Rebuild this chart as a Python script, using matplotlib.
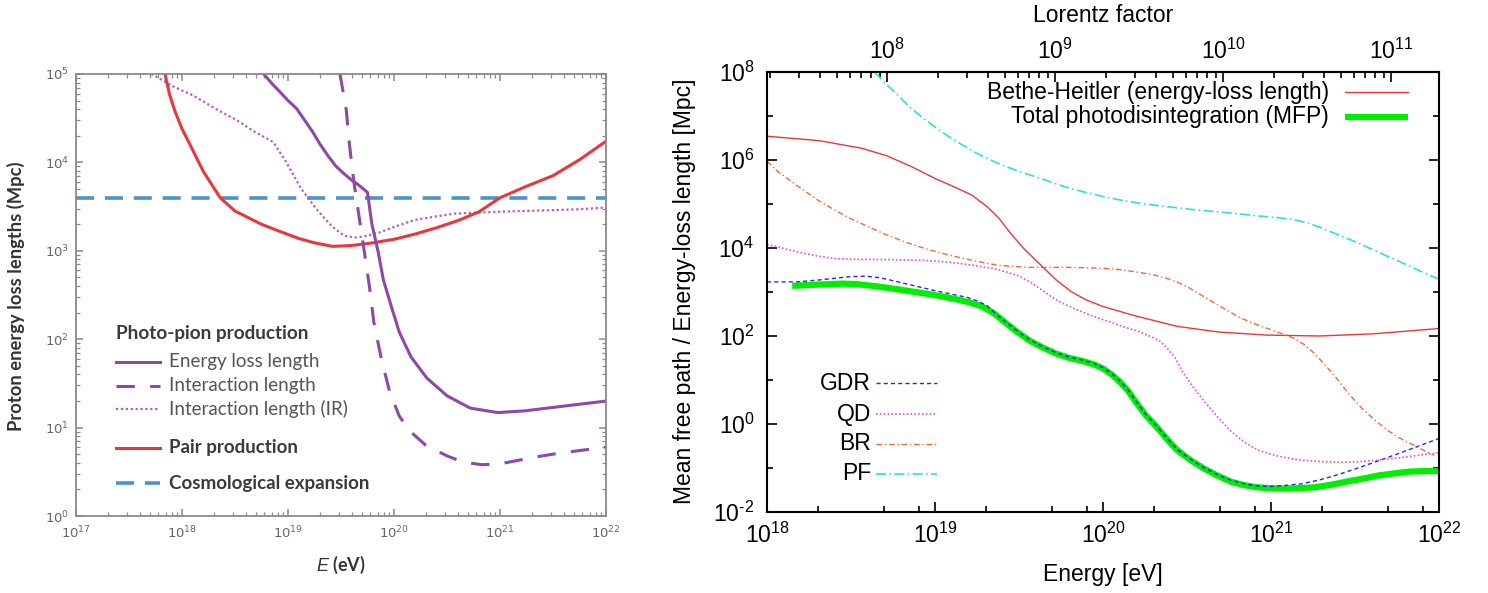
import numpy as np
import matplotlib
matplotlib.use("Agg")
import matplotlib.pyplot as plt
from matplotlib.lines import Line2D
from matplotlib.ticker import (LogLocator, FixedLocator, NullFormatter,
                               LogFormatterMathtext, FuncFormatter)

plt.rcParams['mathtext.fontset'] = 'custom'
plt.rcParams['mathtext.rm'] = 'Liberation Sans'
plt.rcParams['mathtext.it'] = 'Liberation Sans:italic'
plt.rcParams['mathtext.bf'] = 'Liberation Sans:bold'
plt.rcParams['axes.unicode_minus'] = False

# ---------------- Left panel: proton energy-loss lengths ----------------
# values are log10(E / eV) and log10(L / Mpc)
el_logE = [18.77, 18.85, 18.93, 19.0, 19.08, 19.15, 19.23, 19.3, 19.38, 19.45, 19.53,
           19.6, 19.66, 19.75, 19.79, 19.85, 19.9, 19.98, 20.05, 20.16, 20.31, 20.5,
           20.72, 20.98, 21.24, 21.58, 22.0]
el_logL = [5.0, 4.89, 4.79, 4.70, 4.61, 4.49, 4.35, 4.21, 4.07, 3.96, 3.87,
           3.80, 3.75, 3.66, 3.31, 2.99, 2.67, 2.35, 2.08, 1.80, 1.56, 1.36,
           1.22, 1.17, 1.19, 1.24, 1.30]

int_logE = [19.49, 19.52, 19.55, 19.58, 19.62, 19.67, 19.72, 19.77, 19.81, 19.88, 19.96,
            20.05, 20.15, 20.3, 20.5, 20.65, 20.83, 21.0, 21.13, 21.3, 21.5, 21.75, 22.0]
int_logL = [5.0, 4.8, 4.59, 4.2, 3.79, 3.39, 2.99, 2.58, 2.19, 1.78, 1.40,
            1.13, 0.96, 0.80, 0.68, 0.61, 0.58, 0.59, 0.62, 0.66, 0.70, 0.74, 0.78]

ir_logE = [17.71, 17.8, 17.9, 17.97, 18.1, 18.2, 18.34, 18.5, 18.68, 18.86, 18.97,
           19.05, 19.12, 19.2, 19.27, 19.35, 19.42, 19.53, 19.64, 19.75, 19.87, 20.0,
           20.2, 20.4, 20.57, 20.75, 20.95, 21.2, 21.5, 21.75, 22.0]
ir_logL = [5.0, 4.94, 4.87, 4.83, 4.76, 4.69, 4.59, 4.49, 4.35, 4.23, 4.03,
           3.86, 3.71, 3.58, 3.47, 3.36, 3.27, 3.17, 3.15, 3.17, 3.21, 3.27,
           3.35, 3.39, 3.42, 3.43, 3.44, 3.45, 3.46, 3.47, 3.49]

pair_logE = [17.84, 17.88, 17.93, 18.0, 18.08, 18.2, 18.36, 18.5, 18.6, 18.75, 18.9,
             19.1, 19.25, 19.42, 19.6, 19.8, 20.0, 20.2, 20.4, 20.6, 20.8, 21.0,
             21.25, 21.5, 21.75, 22.0]
pair_logL = [5.0, 4.78, 4.59, 4.38, 4.19, 3.90, 3.60, 3.45, 3.39, 3.30, 3.23,
             3.14, 3.09, 3.05, 3.06, 3.09, 3.13, 3.19, 3.26, 3.34, 3.44, 3.60,
             3.73, 3.85, 4.03, 4.24]

cosmo_logE = [17.0, 22.0]
cosmo_logL = [3.60, 3.60]

# ---------------- Right panel: iron nucleus mean free paths ----------------
bh_logE = [18.0, 18.31, 18.56, 18.71, 18.86, 19.0, 19.12, 19.22, 19.31, 19.38, 19.44,
           19.53, 19.63, 19.72, 19.81, 19.9, 20.0, 20.19, 20.44, 20.69, 20.98, 21.29,
           21.61, 22.0]
bh_logL = [6.54, 6.44, 6.27, 6.10, 5.85, 5.58, 5.38, 5.20, 4.94, 4.68, 4.38,
           3.98, 3.61, 3.28, 3.01, 2.82, 2.67, 2.46, 2.22, 2.09, 2.02, 2.00,
           2.05, 2.17]

tot_logE = [18.15, 18.31, 18.45, 18.53, 18.65, 18.78, 18.9, 19.0, 19.12, 19.2, 19.28,
            19.35, 19.41, 19.48, 19.56, 19.64, 19.72, 19.8, 19.88, 19.95, 20.0, 20.05,
            20.1, 20.15, 20.19, 20.25, 20.32, 20.38, 20.44, 20.52, 20.6, 20.68, 20.76,
            20.84, 20.92, 21.0, 21.07, 21.16, 21.26, 21.36, 21.45, 21.55, 21.64, 21.74,
            21.83, 21.92, 22.0]
tot_logL = [3.14, 3.17, 3.19, 3.18, 3.13, 3.06, 2.99, 2.93, 2.84, 2.77, 2.67,
            2.52, 2.33, 2.12, 1.90, 1.74, 1.60, 1.50, 1.43, 1.35, 1.26, 1.13,
            0.96, 0.75, 0.53, 0.22, -0.07, -0.34, -0.59, -0.82, -1.01, -1.17, -1.31,
            -1.39, -1.44, -1.46, -1.47, -1.46, -1.44, -1.38, -1.31, -1.24, -1.17, -1.12,
            -1.08, -1.07, -1.07]

gdr_logE = [18.0, 18.18, 18.3, 18.4, 18.5, 18.59, 18.68, 18.78, 18.9, 19.0, 19.1,
            19.19, 19.25, 19.31, 19.35, 19.41, 19.48, 19.56, 19.64, 19.72, 19.8, 19.88,
            19.95, 20.0, 20.05, 20.1, 20.15, 20.19, 20.25, 20.32, 20.38, 20.44, 20.52,
            20.6, 20.68, 20.76, 20.84, 20.92, 21.0, 21.07, 21.18, 21.29, 21.4, 21.51,
            21.63, 21.76, 21.88, 22.0]
gdr_logL = [3.23, 3.23, 3.27, 3.31, 3.35, 3.36, 3.32, 3.23, 3.12, 3.03, 2.95,
            2.88, 2.80, 2.69, 2.54, 2.35, 2.14, 1.92, 1.76, 1.62, 1.52, 1.45,
            1.37, 1.28, 1.15, 0.98, 0.77, 0.55, 0.24, -0.05, -0.32, -0.57, -0.80,
            -0.99, -1.15, -1.28, -1.36, -1.41, -1.42, -1.40, -1.36, -1.27, -1.15, -1.01,
            -0.85, -0.67, -0.50, -0.33]

qd_logE = [18.0, 18.1, 18.18, 18.3, 18.4, 18.55, 18.68, 18.8, 18.93, 19.05, 19.12,
           19.22, 19.34, 19.43, 19.5, 19.57, 19.63, 19.69, 19.75, 19.82, 19.88, 19.94,
           20.0, 20.07, 20.13, 20.2, 20.29, 20.34, 20.38, 20.43, 20.47, 20.53, 20.6,
           20.68, 20.76, 20.84, 20.92, 21.03, 21.14, 21.24, 21.33, 21.42, 21.51, 21.63,
           21.76, 21.88, 22.0]
qd_logL = [4.08, 3.99, 3.91, 3.82, 3.76, 3.74, 3.74, 3.73, 3.72, 3.69, 3.66,
           3.61, 3.54, 3.45, 3.36, 3.22, 3.06, 2.90, 2.76, 2.64, 2.54, 2.45,
           2.37, 2.28, 2.20, 2.12, 1.98, 1.88, 1.73, 1.50, 1.21, 0.87, 0.53,
           0.17, -0.16, -0.41, -0.59, -0.72, -0.80, -0.84, -0.86, -0.87, -0.86, -0.82,
           -0.77, -0.71, -0.65]

br_logE = [18.0, 18.07, 18.15, 18.23, 18.31, 18.4, 18.49, 18.6, 18.71, 18.82, 18.93,
           19.04, 19.15, 19.26, 19.37, 19.47, 19.56, 19.68, 19.81, 19.9, 20.0, 20.1,
           20.19, 20.29, 20.38, 20.45, 20.51, 20.58, 20.66, 20.74, 20.82, 20.9, 20.98,
           21.06, 21.14, 21.2, 21.26, 21.32, 21.39, 21.46, 21.54, 21.62, 21.7, 21.78,
           21.86, 21.92, 21.97]
br_logL = [5.97, 5.72, 5.50, 5.28, 5.07, 4.87, 4.68, 4.49, 4.30, 4.14, 4.00,
           3.88, 3.78, 3.69, 3.61, 3.58, 3.56, 3.56, 3.56, 3.55, 3.54, 3.51,
           3.46, 3.40, 3.31, 3.21, 3.10, 2.94, 2.76, 2.58, 2.41, 2.28, 2.17,
           2.06, 1.94, 1.80, 1.60, 1.35, 1.04, 0.70, 0.36, 0.08, -0.16, -0.35,
           -0.50, -0.62, -0.71]

pf_logE = [18.64, 18.7, 18.78, 18.85, 18.93, 19.02, 19.12, 19.24, 19.37, 19.5, 19.63,
           19.75, 19.88, 20.0, 20.13, 20.25, 20.38, 20.52, 20.66, 20.8, 20.92, 21.04,
           21.14, 21.22, 21.29, 21.4, 21.51, 21.63, 21.76, 21.88, 22.0]
pf_logL = [8.0, 7.76, 7.47, 7.20, 6.95, 6.69, 6.44, 6.17, 5.93, 5.74, 5.58,
           5.42, 5.28, 5.17, 5.07, 5.00, 4.94, 4.88, 4.83, 4.78, 4.73, 4.69,
           4.64, 4.57, 4.47, 4.30, 4.13, 3.92, 3.70, 3.49, 3.29]

# rest energy of a 56Fe nucleus in eV, used for the Lorentz factor axis
FE_REST_EV = 5.2e10
lorentz_ticks = [1e8, 1e9, 1e10, 1e11]


def p10(a):
    return 10.0 ** np.asarray(a)


def pow10_label(v, pos=None):
    # gnuplot-style exponent with a plain hyphen for negative powers
    e = int(round(np.log10(v)))
    s = str(e).replace('-', r'\text{-}')
    return r'$10^{%s}$' % s


W, H = 1488, 593
fig = plt.figure(figsize=(W / 100, H / 100), dpi=100)

# ======================= left panel =======================
ax1 = fig.add_axes([76 / W, 1 - 516 / H, 530 / W, 442 / H])
ax1.set_xscale('log')
ax1.set_yscale('log')
ax1.set_xlim(1e17, 1e22)
ax1.set_ylim(1e0, 1e5)

purple = '#8c4aa6'
red = '#e8373e'
blue = '#4a94cc'
lightpurple = '#b35bc9'

ax1.plot(p10(cosmo_logE), p10(cosmo_logL), color=blue, lw=2.6, dashes=(5, 3))
ax1.plot(p10(ir_logE), p10(ir_logL), color=lightpurple, lw=1.6, dashes=(1, 1.2))
ax1.plot(p10(pair_logE), p10(pair_logL), color=red, lw=2.2)
ax1.plot(p10(int_logE), p10(int_logL), color=purple, lw=2.2, dashes=(6, 5))
ax1.plot(p10(el_logE), p10(el_logL), color=purple, lw=2.2)

grey = '#8a8a8a'
for s in ax1.spines.values():
    s.set_color(grey)
    s.set_linewidth(1.3)
ax1.xaxis.set_major_locator(LogLocator(base=10, numticks=10))
ax1.xaxis.set_minor_locator(LogLocator(base=10, subs=np.arange(2, 10), numticks=20))
ax1.yaxis.set_major_locator(LogLocator(base=10, numticks=10))
ax1.yaxis.set_minor_locator(LogLocator(base=10, subs=np.arange(2, 10), numticks=20))
ax1.xaxis.set_minor_formatter(NullFormatter())
ax1.yaxis.set_minor_formatter(NullFormatter())
ax1.xaxis.set_major_formatter(LogFormatterMathtext())
ax1.yaxis.set_major_formatter(LogFormatterMathtext())
ax1.tick_params(which='both', direction='in', top=True, right=True, color=grey,
                labelcolor='#666666', labelsize=9.5)
ax1.tick_params(which='major', length=5, width=1.1)
ax1.tick_params(which='minor', length=3, width=0.9)
ax1.tick_params(axis='x', pad=6)
ax1.tick_params(axis='y', pad=5)

fig.text(16 / W, 1 - 296 / H, 'Proton energy loss lengths (Mpc)', rotation=90,
         ha='center', va='center', family='Lato', weight='bold', fontsize=13.2,
         color='#333333')
fig.text(341 / W, 1 - 565 / H, r'$\mathbf{\mathit{E}}$ (eV)', ha='center', va='center',
         family='Lato', weight='bold', fontsize=13, color='#333333')

# legend of the left panel
def lx(px):
    return (px - 76) / 530


def ly(py):
    return (516 - py) / 442


txtc = '#555555'
ax1.text(lx(116), ly(334), 'Photo-pion production', transform=ax1.transAxes,
         family='Lato', weight='bold', fontsize=13.6, color='#3a3a3a', va='center')
leg_items = [
    (362, dict(color=purple, lw=2.2), 'Energy loss length', 'normal'),
    (386, dict(color=purple, lw=2.2, dashes=(6, 5)), 'Interaction length', 'normal'),
    (409, dict(color=lightpurple, lw=1.6, dashes=(1, 1.2)), 'Interaction length (IR)', 'normal'),
    (448, dict(color=red, lw=2.2), 'Pair production', 'bold'),
    (483, dict(color=blue, lw=2.6, dashes=(5, 3)), 'Cosmological expansion', 'bold'),
]
for py, style, label, wt in leg_items:
    ax1.add_line(Line2D([lx(116), lx(160)], [ly(py), ly(py)], transform=ax1.transAxes,
                        **style))
    ax1.text(lx(169), ly(py), label, transform=ax1.transAxes, family='Lato',
             weight=wt, fontsize=13.5, color=txtc if wt == 'normal' else '#3a3a3a',
             va='center')

# ======================= right panel =======================
ax2 = fig.add_axes([767 / W, 1 - 512 / H, 672 / W, 440 / H])
ax2.set_xscale('log')
ax2.set_yscale('log')
ax2.set_xlim(1e18, 1e22)
ax2.set_ylim(1e-2, 1e8)

c_bh = '#e8383d'
c_tot = '#00ee00'
c_gdr = '#2a2ae0'
c_qd = '#e04ee6'
c_br = '#f06a3a'
c_pf = '#30dede'

ax2.plot(p10(bh_logE), p10(bh_logL), color=c_bh, lw=1.0)
ax2.plot(p10(tot_logE), p10(tot_logL), color=c_tot, lw=4.5, solid_capstyle='butt')
ax2.plot(p10(gdr_logE), p10(gdr_logL), color=c_gdr, lw=1.0, dashes=(3, 2.2))
ax2.plot(p10(qd_logE), p10(qd_logL), color=c_qd, lw=1.2, dashes=(1, 1.3))
ax2.plot(p10(br_logE), p10(br_logL), color=c_br, lw=1.0, dashes=(4, 2, 1, 2))
ax2.plot(p10(pf_logE), p10(pf_logL), color=c_pf, lw=1.2, dashes=(6, 2, 1, 2))

for s in ax2.spines.values():
    s.set_color('black')
    s.set_linewidth(1.5)

FS = 16.5
ax2.xaxis.set_major_locator(LogLocator(base=10, numticks=10))
ax2.xaxis.set_minor_locator(LogLocator(base=10, subs=(2, 5, 8), numticks=20))
ax2.xaxis.set_minor_formatter(NullFormatter())
ax2.xaxis.set_major_formatter(FuncFormatter(pow10_label))
ax2.yaxis.set_major_locator(FixedLocator([1e-2, 1e0, 1e2, 1e4, 1e6, 1e8]))
ax2.yaxis.set_minor_locator(FixedLocator([1e-1, 1e1, 1e3, 1e5, 1e7]))
ax2.yaxis.set_minor_formatter(NullFormatter())
ax2.yaxis.set_major_formatter(FuncFormatter(pow10_label))
ax2.tick_params(which='both', direction='in', top=False, right=True, color='black',
                labelsize=FS, width=1.2)
ax2.tick_params(which='major', length=7)
ax2.tick_params(which='minor', length=4.5)
ax2.tick_params(axis='x', pad=8)
ax2.tick_params(axis='y', pad=9)

sec = ax2.secondary_xaxis('top', functions=(lambda e: e / FE_REST_EV,
                                            lambda g: g * FE_REST_EV))
sec.xaxis.set_major_locator(FixedLocator(lorentz_ticks))
sec.xaxis.set_minor_locator(LogLocator(base=10, subs=np.arange(2, 10), numticks=20))
sec.xaxis.set_minor_formatter(NullFormatter())
sec.xaxis.set_major_formatter(FuncFormatter(pow10_label))
sec.tick_params(which='both', direction='in', color='black', labelsize=FS, width=1.2)
sec.tick_params(which='major', length=7, pad=6)
sec.tick_params(which='minor', length=4.5)
sec.spines['top'].set_linewidth(1.5)

fig.text(1103 / W, 1 - 574 / H, 'Energy [eV]', ha='center', va='center',
         family='Liberation Sans', fontsize=FS)
fig.text(684 / W, 1 - 291 / H, 'Mean free path / Energy-loss length [Mpc]', rotation=90,
         ha='center', va='center', family='Liberation Sans', fontsize=FS)
fig.text(1103 / W, 1 - 15 / H, 'Lorentz factor', ha='center', va='center',
         family='Liberation Sans', fontsize=FS)


def rx(px):
    return (px - 767) / 672


def ry(py):
    return (512 - py) / 440


top_items = [
    (92, dict(color=c_bh, lw=1.0), 'Bethe-Heitler (energy-loss length)'),
    (117, dict(color=c_tot, lw=4.5, solid_capstyle='butt'), 'Total photodisintegration (MFP)'),
]
for py, style, label in top_items:
    ax2.add_line(Line2D([rx(1345), rx(1408)], [ry(py), ry(py)], transform=ax2.transAxes,
                        **style))
    ax2.text(rx(1329), ry(py), label, transform=ax2.transAxes, ha='right', va='center',
             family='Liberation Sans', fontsize=FS)

low_items = [
    (383, dict(color=c_gdr, lw=1.0, dashes=(3, 2.2)), 'GDR'),
    (414, dict(color=c_qd, lw=1.2, dashes=(1, 1.3)), 'QD'),
    (444, dict(color=c_br, lw=1.0, dashes=(4, 2, 1, 2)), 'BR'),
    (474, dict(color=c_pf, lw=1.2, dashes=(6, 2, 1, 2)), 'PF'),
]
for py, style, label in low_items:
    ax2.add_line(Line2D([rx(876), rx(937)], [ry(py), ry(py)], transform=ax2.transAxes,
                        **style))
    ax2.text(rx(871), ry(py), label, transform=ax2.transAxes, ha='right', va='center',
             family='Liberation Sans', fontsize=FS)

fig.savefig('out.png', dpi=100)
